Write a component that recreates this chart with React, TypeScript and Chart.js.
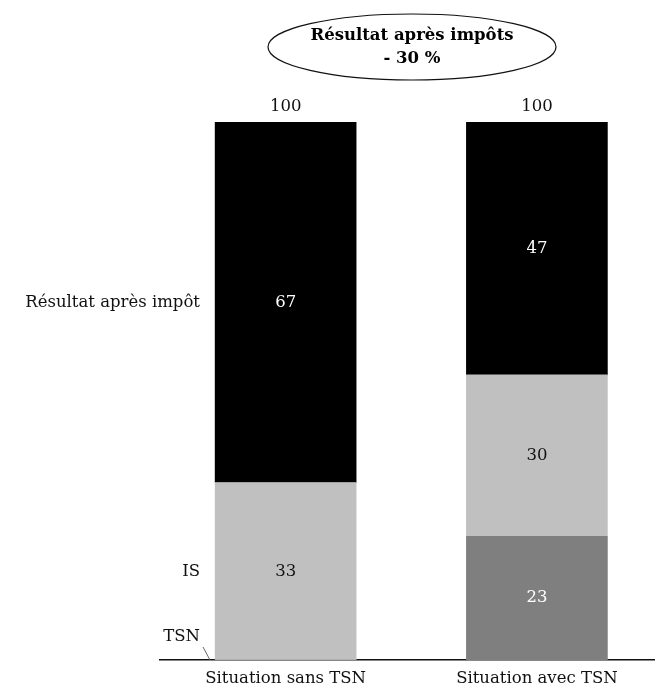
import React, { useEffect, useRef } from "react";
import { Chart, registerables } from "chart.js";

Chart.register(...registerables);

const categories = ["Situation sans TSN", "Situation avec TSN"];
const tsnValues = [0, 23];
const isValues = [33, 30];
const resultValues = [67, 47];
const totals = [100, 100];
const seriesNames = ["TSN", "IS", "Résultat après impôt"];
const titleLines = ["Résultat après impôts", "- 30 %"];

const FONT = "'DejaVu Serif', 'Liberation Serif', serif";

const overlay = {
  id: "overlay",
  afterDatasetsDraw(chart: any) {
    const ctx = chart.ctx;
    const xs = chart.scales.x;
    const ys = chart.scales.y;
    ctx.save();
    ctx.textAlign = "center";
    ctx.textBaseline = "middle";
    ctx.font = `16.5px ${FONT}`;
    // values inside segments
    chart.data.datasets.forEach((ds: any, di: number) => {
      const meta = chart.getDatasetMeta(di);
      meta.data.forEach((bar: any, i: number) => {
        const v = ds.data[i].y;
        if (!v) return;
        const y = (bar.y + bar.base) / 2;
        ctx.fillStyle = ds.labelColor;
        ctx.fillText(String(v), bar.x, y);
      });
    });
    // totals
    ctx.fillStyle = "#111";
    totals.forEach((t, i) => {
      ctx.fillText(String(t), xs.getPixelForValue(i), ys.getPixelForValue(t) - 15);
    });
    // categories
    categories.forEach((c, i) => {
      ctx.fillText(c, xs.getPixelForValue(i), ys.bottom + 19);
    });
    // series labels at left of first bar
    ctx.textAlign = "right";
    const m0 = chart.getDatasetMeta(2).data[0];
    ctx.fillText(seriesNames[2], 200, (m0.y + m0.base) / 2);
    const m1 = chart.getDatasetMeta(1).data[0];
    ctx.fillText(seriesNames[1], 200, (m1.y + m1.base) / 2);
    ctx.fillText(seriesNames[0], 200, ys.bottom - 23);
    ctx.strokeStyle = "#666";
    ctx.lineWidth = 1;
    ctx.beginPath();
    ctx.moveTo(203, ys.bottom - 13);
    ctx.lineTo(210, ys.bottom);
    ctx.stroke();
    // title ellipse
    ctx.beginPath();
    ctx.ellipse(412, 47, 144, 33, 0, 0, Math.PI * 2);
    ctx.strokeStyle = "#111";
    ctx.lineWidth = 1.2;
    ctx.stroke();
    ctx.textAlign = "center";
    ctx.font = `bold 16.5px ${FONT}`;
    ctx.fillStyle = "#000";
    ctx.fillText(titleLines[0], 412, 36);
    ctx.fillText(titleLines[1], 412, 59);
    ctx.restore();
  },
};

export default function App() {
  const ref = useRef<HTMLCanvasElement>(null);
  useEffect(() => {
    document.body.style.margin = "0";
    const mk = (arr: number[]) => arr.map((y, i) => ({ x: i, y }));
    const chart = new Chart(ref.current!, {
      type: "bar",
      data: {
        datasets: [
          { label: seriesNames[0], data: mk(tsnValues), backgroundColor: "#7f7f7f", labelColor: "#fff", barThickness: 141 } as any,
          { label: seriesNames[1], data: mk(isValues), backgroundColor: "#c0c0c0", labelColor: "#111", barThickness: 141 } as any,
          { label: seriesNames[2], data: mk(resultValues), backgroundColor: "#000", labelColor: "#fff", barThickness: 141 } as any,
        ],
      },
      options: {
        animation: false,
        responsive: false,
        parsing: false as any,
        layout: { padding: { top: 122, bottom: 26, left: 160, right: 0 } },
        plugins: { legend: { display: false }, tooltip: { enabled: false } },
        scales: {
          x: {
            type: "linear",
            stacked: true,
            offset: false,
            min: -0.5,
            max: 1.47,
            grid: { display: false, drawTicks: false },
            border: { display: true, color: "#111", width: 1.5 },
            ticks: { display: false, padding: 0 },
          },
          y: {
            stacked: true,
            min: 0,
            max: 100,
            display: false,
          },
        },
      },
      plugins: [overlay],
    });
    return () => chart.destroy();
  }, []);
  return (
    <div style={{ position: "fixed", left: 0, top: 0, width: 655, height: 686, background: "#fff" }}>
      <canvas ref={ref} width={655} height={686} style={{ width: 655, height: 686 }} />
    </div>
  );
}
